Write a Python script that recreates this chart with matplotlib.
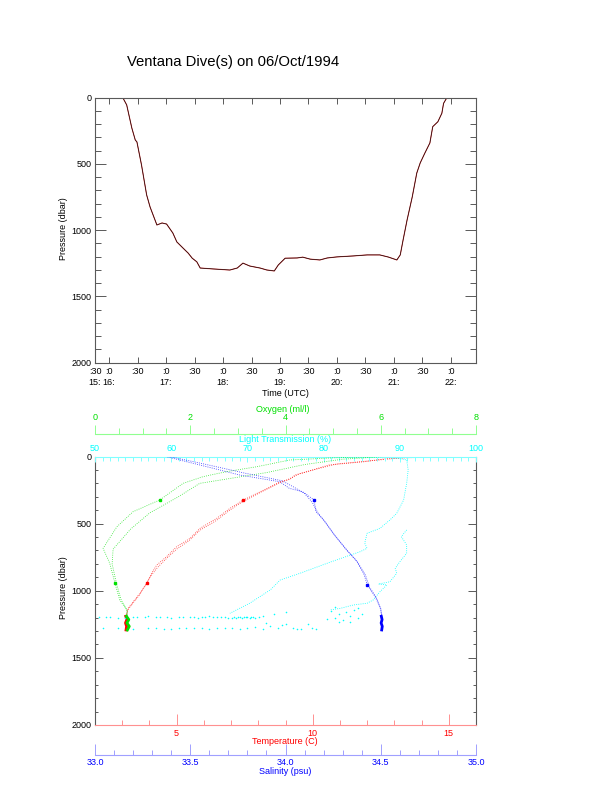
import matplotlib
matplotlib.use("Agg")
import matplotlib.pyplot as plt
from matplotlib.ticker import MultipleLocator, FormatStrFormatter

plt.rcParams['font.family'] = ['Liberation Sans', 'DejaVu Sans']

# ---- dive track (top panel): time in decimal hours UTC, pressure in dbar
dive_time = [16.24, 16.31, 16.40, 16.46, 16.49, 16.57, 16.66, 16.72, 16.84, 16.93,
             17.01, 17.12, 17.19, 17.30, 17.39, 17.46, 17.54, 17.60, 17.83, 18.12,
             18.25, 18.35, 18.47, 18.65, 18.77, 18.90, 18.97, 19.09, 19.30, 19.40,
             19.53, 19.70, 19.83, 20.00, 20.28, 20.53, 20.75, 20.90, 21.05, 21.11,
             21.16, 21.23, 21.32, 21.40, 21.46, 21.54, 21.63, 21.68, 21.77, 21.84,
             21.87, 21.93]
dive_pres = [0, 56, 230, 320, 336, 509, 735, 826, 962, 947,
             955, 1023, 1090, 1137, 1175, 1213, 1240, 1287, 1294, 1302,
             1287, 1250, 1272, 1287, 1302, 1309, 1264, 1213, 1211, 1205,
             1220, 1226, 1211, 1203, 1196, 1188, 1188, 1204, 1226, 1188,
             1075, 924, 751, 570, 494, 421, 343, 220, 183, 119,
             44, 0]

time_ticks = [16.0, 16.5, 17.0, 17.5, 18.0, 18.5, 19.0, 19.5, 20.0, 20.5, 21.0, 21.5, 22.0]
time_labels = [":0\n16:", ":30", ":0\n17:", ":30", ":0\n18:", ":30", ":0\n19:", ":30",
               ":0\n20:", ":30", ":0\n21:", ":30", ":0\n22:"]
time_lim = [15.754, 22.439]

# ---- profiles (bottom panel)
temp_p_a = [0, 13, 39, 63, 100, 138, 170, 188, 250, 324, 386, 461, 535, 610, 672, 746,
            808, 870, 945, 1019, 1081, 1131, 1193]
temp_a = [15.3, 12.8, 11.9, 10.6, 10.0, 9.35, 9.17, 8.8, 8.2, 7.45, 6.96, 6.47, 5.86,
          5.49, 5.0, 4.63, 4.27, 4.08, 3.9, 3.65, 3.41, 3.22, 3.14]
temp_p_b = [0, 8, 30, 55, 90, 130, 175, 200, 265, 340, 400, 478, 550, 628, 690, 765,
            826, 890, 960, 1035, 1095, 1145, 1193]
temp_b = [14.2, 13.4, 12.2, 10.9, 10.2, 9.5, 9.05, 8.75, 8.1, 7.4, 6.95, 6.45, 5.85,
          5.45, 5.0, 4.6, 4.3, 4.05, 3.85, 3.62, 3.38, 3.2, 3.14]

sal_p_a = [0, 63, 138, 188, 237, 262, 324, 411, 473, 572, 696, 771, 870, 957, 1044,
           1131, 1193]
sal_a = [33.37, 33.55, 33.76, 33.97, 34.02, 34.09, 34.15, 34.16, 34.20, 34.25, 34.32,
         34.37, 34.41, 34.43, 34.47, 34.50, 34.505]
sal_p_b = [0, 55, 125, 180, 225, 275, 340, 420, 490, 590, 710, 790, 885, 970, 1060,
           1140, 1193]
sal_b = [33.39, 33.57, 33.79, 33.98, 34.04, 34.10, 34.14, 34.17, 34.21, 34.26, 34.33,
         34.38, 34.42, 34.44, 34.48, 34.50, 34.505]

oxy_p_a = [0, 10, 26, 76, 113, 150, 200, 324, 411, 523, 684, 796, 945, 1069, 1143, 1193]
oxy_a = [6.0, 5.0, 4.09, 3.40, 2.76, 2.27, 1.85, 1.36, 0.80, 0.46, 0.17, 0.31, 0.42,
         0.52, 0.67, 0.68]
oxy_p_b = [0, 20, 60, 120, 200, 300, 420, 540, 690, 800, 945, 1069, 1143, 1193]
oxy_b = [6.1, 5.2, 4.4, 3.6, 2.2, 1.75, 1.15, 0.75, 0.38, 0.36, 0.45, 0.55, 0.67, 0.68]

lt_p_a = [0, 5, 15, 26, 100, 200, 324, 423, 473, 535, 572, 646, 684, 709, 784, 870,
          920, 994, 1093, 1168]
lt_a = [85.0, 88.0, 90.0, 90.9, 91.1, 90.9, 90.5, 89.6, 88.7, 87.4, 85.7, 85.4, 85.7,
        84.8, 81.0, 76.9, 74.3, 73.0, 70.3, 67.7]
lt_p_b = [547, 597, 659, 721, 784, 833, 870, 933, 950, 957, 1007, 1069, 1093, 1106,
          1131, 1143]
lt_b = [90.9, 90.2, 90.9, 90.9, 90.0, 89.4, 89.6, 88.7, 87.2, 88.3, 87.4, 86.5, 85.7,
        83.9, 82.2, 80.8]

# sensor sitting on the bottom
bot_p = [1190, 1215, 1240, 1265, 1292]
bot_t = [3.13, 3.17, 3.12, 3.16, 3.14]
bot_o = [0.66, 0.71, 0.67, 0.72, 0.68]
bot_s = [34.503, 34.507, 34.502, 34.508, 34.505]

# light transmission scatter near the bottom
lt_band1 = [50.5, 51.5, 52, 53, 54, 55, 55.5, 56.5, 57, 58, 58.5, 59.5, 60, 61, 61.5,
            62.5, 63, 63.5, 64, 64.5, 65, 65.5, 66, 66.5, 67, 67.5, 68, 68.3, 68.5,
            68.8, 69, 69.3, 69.5, 69.8, 70, 70.3, 70.5, 70.8, 71, 71.5, 72, 73.5, 75]
p_band1 = [1198, 1194, 1192, 1201, 1200, 1193, 1195, 1199, 1190, 1196, 1197, 1192, 1202,
           1198, 1193, 1195, 1196, 1201, 1199, 1194, 1191, 1198, 1197, 1192, 1194, 1200,
           1200, 1196, 1203, 1199, 1196, 1202, 1193, 1198, 1198, 1201, 1195, 1197, 1201,
           1196, 1190, 1170, 1160]
lt_band2 = [51, 53, 55, 57, 58, 59, 60, 61, 62, 63, 64, 65, 66, 67, 68, 69, 70, 71,
            72, 73, 74, 75, 76, 77, 78, 78.5, 79, 72.5, 74.5, 76.5]
p_band2 = [1280, 1276, 1282, 1279, 1274, 1283, 1285, 1277, 1281, 1280, 1276, 1284, 1278,
           1281, 1275, 1283, 1279, 1268, 1285, 1262, 1280, 1250, 1277, 1282, 1245, 1280,
           1286, 1240, 1255, 1286]
lt_band3 = [81, 81.5, 82, 82.5, 83, 83.5, 84, 84.5, 85, 82, 83.5, 81.5, 84.5, 80.5]
p_band3 = [1150, 1200, 1170, 1215, 1160, 1190, 1145, 1205, 1175, 1230, 1235, 1120, 1130,
           1210]

RED, GRN, BLU, CYN = '#ff0000', '#00e000', '#0000ff', '#00ffff'
AXC = '0.35'
FS = 6.5

W, H = 612, 785


def fx(px):
    return px / W


def fy(py):
    return 1 - py / H


fig = plt.figure(figsize=(W / 100, H / 100), dpi=100)

# ---------------- top panel ----------------
ax1 = fig.add_axes([fx(95), fy(362.5), (476 - 95) / W, (362.5 - 97.5) / H])
ax1.plot(dive_time, dive_pres, color='#e85050', lw=0.8)
ax1.plot(dive_time, dive_pres, color='black', lw=0.45)
ax1.set_xlim(time_lim)
ax1.set_ylim(2000, 0)
ax1.set_xticks([time_lim[0]] + time_ticks)
ax1.set_xticklabels([":30\n15:"] + time_labels, fontsize=FS, linespacing=1.35)
ax1.yaxis.set_major_locator(MultipleLocator(500))
ax1.yaxis.set_minor_locator(MultipleLocator(100))
ax1.tick_params(axis='x', which='major', direction='in', top=True, length=4,
                width=0.7, color=AXC, pad=3)
ax1.tick_params(axis='y', which='major', direction='in', right=True, length=7.7,
                width=0.7, color=AXC, labelsize=FS, pad=2.5)
ax1.tick_params(axis='y', which='minor', direction='in', right=True, length=4.1,
                width=0.7, color=AXC)
for s in ax1.spines.values():
    s.set_color(AXC)
    s.set_linewidth(0.8)

fig.text(fx(233), fy(62), "Ventana Dive(s) on 06/Oct/1994", ha='center', va='center',
         fontsize=10.7)
fig.text(fx(63), fy(229), "Pressure (dbar)", rotation=90, ha='center', va='center',
         fontsize=FS)
fig.text(fx(285), fy(393), "Time (UTC)", ha='center', va='center', fontsize=FS)

# ---------------- bottom panel ----------------
ax2 = fig.add_axes([fx(95), fy(725), (476 - 95) / W, (725 - 456.5) / H])
ax_lt = ax2.twiny()
ax_ox = ax2.twiny()
ax_sal = ax2.twiny()

dot = (0, (1, 1.6))
ax_lt.plot(lt_a, lt_p_a, color=CYN, lw=0.6, ls=dot)
ax_lt.plot(lt_b, lt_p_b, color=CYN, lw=0.6, ls=dot)
ax_lt.scatter(lt_band1, p_band1, s=1.3, color=CYN, lw=0)
ax_lt.scatter(lt_band2, p_band2, s=1.3, color=CYN, lw=0)
ax_lt.scatter(lt_band3, p_band3, s=1.3, color=CYN, lw=0)

ax2.plot(temp_a, temp_p_a, color=RED, lw=0.6, ls=dot, alpha=0.8)
ax2.plot(temp_b, temp_p_b, color=RED, lw=0.6, ls=dot, alpha=0.8)
ax2.plot(bot_t, bot_p, color=RED, lw=2.0)
ax2.plot([7.45, 3.9], [324, 945], ls='none', marker='s', ms=2, color=RED)

ax_ox.plot(oxy_a, oxy_p_a, color=GRN, lw=0.6, ls=dot, alpha=0.8)
ax_ox.plot(oxy_b, oxy_p_b, color=GRN, lw=0.6, ls=dot, alpha=0.8)
ax_ox.plot(bot_o, bot_p, color=GRN, lw=2.0)
ax_ox.plot([1.36, 0.42], [324, 945], ls='none', marker='s', ms=2, color=GRN)

ax_sal.plot(sal_a, sal_p_a, color=BLU, lw=0.6, ls=dot, alpha=0.8)
ax_sal.plot(sal_b, sal_p_b, color=BLU, lw=0.6, ls=dot, alpha=0.8)
ax_sal.plot(bot_s, bot_p, color=BLU, lw=2.0)
ax_sal.plot([34.15, 34.43], [324, 957], ls='none', marker='s', ms=2, color=BLU)

ax2.set_ylim(2000, 0)

# temperature on the bottom spine
ax2.set_xlim(2, 16)
ax2.xaxis.set_major_locator(MultipleLocator(5))
ax2.xaxis.set_minor_locator(MultipleLocator(1))
ax2.tick_params(axis='x', which='major', direction='in', length=7.9, width=0.7,
                color='#ff9090', labelcolor=RED, labelsize=FS, pad=2.7)
ax2.tick_params(axis='x', which='minor', direction='in', length=3.6, width=0.7,
                color='#ff9090')
ax2.yaxis.set_major_locator(MultipleLocator(500))
ax2.yaxis.set_minor_locator(MultipleLocator(100))
ax2.tick_params(axis='y', which='major', direction='in', right=True, length=5.5,
                width=0.7, color=AXC, labelsize=FS, pad=2.5)
ax2.tick_params(axis='y', which='minor', direction='in', right=True, length=2.4,
                width=0.7, color=AXC)
ax2.spines['top'].set_visible(False)
ax2.spines['bottom'].set_color('#ff9090')
for k in ('left', 'right'):
    ax2.spines[k].set_color(AXC)
    ax2.spines[k].set_linewidth(0.8)

# light transmission on the top spine
ax_lt.set_xlim(50, 100)
ax_lt.xaxis.set_major_locator(MultipleLocator(10))
ax_lt.xaxis.set_minor_locator(MultipleLocator(1))
ax_lt.tick_params(axis='x', which='major', direction='in', length=3.6, width=0.7,
                  color='#80ffff', labelcolor=CYN, labelsize=FS, pad=2.5)
ax_lt.tick_params(axis='x', which='minor', direction='in', length=2.6, width=0.7,
                  color='#80ffff')
for k in ('left', 'right', 'bottom'):
    ax_lt.spines[k].set_visible(False)
ax_lt.spines['top'].set_color('#80ffff')

# oxygen on a detached top spine
ax_ox.set_xlim(0, 8)
ax_ox.spines['top'].set_position(('axes', 1.0827))
ax_ox.xaxis.set_major_locator(MultipleLocator(2))
ax_ox.xaxis.set_minor_locator(MultipleLocator(0.5))
ax_ox.tick_params(axis='x', which='major', direction='out', length=6.7, width=0.7,
                  color='#90ff90', labelcolor=GRN, labelsize=FS, pad=1.8)
ax_ox.tick_params(axis='x', which='minor', direction='out', length=4.3, width=0.7,
                  color='#90ff90')
for k in ('left', 'right', 'bottom'):
    ax_ox.spines[k].set_visible(False)
ax_ox.spines['top'].set_color('#90ff90')

# salinity on a detached bottom spine
ax_sal.set_xlim(33.0, 35.0)
ax_sal.xaxis.set_ticks_position('bottom')
ax_sal.xaxis.set_label_position('bottom')
ax_sal.spines['bottom'].set_position(('axes', -0.1117))
ax_sal.xaxis.set_major_locator(MultipleLocator(0.5))
ax_sal.xaxis.set_minor_locator(MultipleLocator(0.1))
ax_sal.xaxis.set_major_formatter(FormatStrFormatter('%.1f'))
ax_sal.tick_params(axis='x', which='major', direction='in', length=7.9, width=0.7,
                   color='#a0a0ff', labelcolor=BLU, labelsize=FS, pad=2.2)
ax_sal.tick_params(axis='x', which='minor', direction='in', length=3.6, width=0.7,
                   color='#a0a0ff')
for k in ('left', 'right', 'top'):
    ax_sal.spines[k].set_visible(False)
ax_sal.spines['bottom'].set_color('#a0a0ff')

fig.text(fx(63), fy(588), "Pressure (dbar)", rotation=90, ha='center', va='center',
         fontsize=FS)
fig.text(fx(283), fy(409), "Oxygen (ml/l)", ha='center', va='center', fontsize=FS,
         color=GRN)
fig.text(fx(285), fy(439.5), "Light Transmission (%)", ha='center', va='center',
         fontsize=FS, color=CYN)
fig.text(fx(285), fy(741.7), "Temperature (C)", ha='center', va='center', fontsize=FS,
         color=RED)
fig.text(fx(285), fy(771), "Salinity (psu)", ha='center', va='center', fontsize=FS,
         color=BLU)

fig.savefig("out.png", dpi=100)
plt.close(fig)
